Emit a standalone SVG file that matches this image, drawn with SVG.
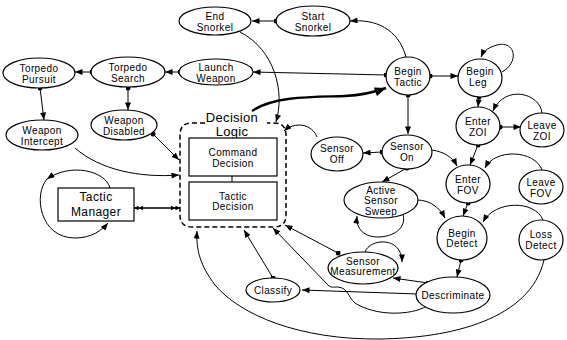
<svg xmlns="http://www.w3.org/2000/svg" width="567" height="340" viewBox="0 0 567 340">
<style>
.n ellipse, .n rect{fill:#fff;stroke:#000;stroke-width:1.2}
text{font-family:"Liberation Sans",Arial,sans-serif;font-size:10px;letter-spacing:0.4px;text-anchor:middle;fill:#000}
.e path{fill:none;stroke:#000;stroke-width:1}
.a{marker-end:url(#ah)}
.d{marker-start:url(#dot)}
</style>
<defs>
<marker id="ah" viewBox="0 0 10 8" refX="10" refY="4" markerWidth="8" markerHeight="6" orient="auto" markerUnits="userSpaceOnUse"><path d="M0,0 L10,4 L0,8 z" fill="#000"/></marker>
<marker id="ahb" viewBox="0 0 10 8" refX="10" refY="4" markerWidth="12" markerHeight="9" orient="auto" markerUnits="userSpaceOnUse"><path d="M0,0 L10,4 L0,8 z" fill="#000"/></marker>
<marker id="dot" viewBox="0 0 6 6" refX="3" refY="3" markerWidth="5" markerHeight="5" markerUnits="userSpaceOnUse"><circle cx="3" cy="3" r="3" fill="#000"/></marker>
<marker id="dbl" viewBox="0 0 12 8" refX="12" refY="4" markerWidth="10" markerHeight="6" orient="auto-start-reverse" markerUnits="userSpaceOnUse"><path d="M0,1 L6,4 L0,7 z M6,1 L12,4 L6,7 z" fill="#000"/></marker>
</defs>

<g id="connectors" class="e">
<path class="a d" d="M276,21 L252,21"/>
<path class="a" d="M406,57 C398,28 375,19 350,21"/>
<path class="a" d="M240,32 C275,50 285,92 276,122"/>
<path class="a d" d="M386,75 L253,72"/>
<path class="a d" d="M180,72 L165,72"/>
<path class="a d" d="M92,72 L75,72"/>
<path class="a d" d="M128,88 L128,110"/>
<path class="a d" d="M40,88 L44,120"/>
<path class="a d" d="M153,134 L179,160"/>
<path class="a" d="M75,148 C100,170 140,178 179,175"/>
<path d="M252,111 C275,95 320,97 345,96 C365,95 375,92 386,88" style="stroke-width:2.4;marker-end:url(#ahb)"/>
<path class="a d" d="M430,76 L458,76"/>
<path class="a d" d="M408,95 L408,134"/>
<path class="a d" d="M479,97 L478,107"/>
<path class="a d" d="M500,127 L521,127"/>
<path class="a" d="M542,113 C540,93 505,84 493,111"/>
<path class="a d" d="M478,145 L470,165"/>
<path class="a d" d="M382,152 L363,153"/>
<path class="a" d="M317,137 C312,124 295,121 284,131"/>
<path class="a" d="M432,150 C445,152 453,158 457,166"/>
<path class="a d" d="M407,168 L382,182"/>
<path class="a" d="M417,200 C430,200 440,208 445,218"/>
<path class="a d" d="M468,203 L463,216"/>
<path class="a d" d="M461,260 L457,277"/>
<path class="a" d="M544,260 C530,320 450,338 380,339 C300,340 240,315 215,285 C200,265 196,250 197,231"/>
<path class="a d" d="M428,283 L393,278"/>
<path class="a d" d="M418,294 L302,290"/>
<path class="a" d="M427,306 C410,316 375,316 355,303 C348,297 348,288 338,287 C333,287 331,288 328,285 L273,228"/>
<path class="a d" d="M338,253 L285,225"/>
<path class="a d" d="M273,278 L244,230"/>
<path class="a" d="M502,72 C520,62 515,40 497,45 C490,47 484,50 481,57"/>
<path class="a" d="M403,214 C408,232 385,240 370,236 C360,233 356,225 357,216"/>
<path class="a" d="M365,252 C370,238 402,236 402,262"/>
<path class="a" d="M542,170 C535,150 495,148 485,168"/>
<path class="a" d="M543,220 C535,200 495,200 483,222"/>
<path class="a" d="M110,188 C105,170 70,163 47,179"/>
<path class="a" d="M47,179 C33,195 40,238 75,238 C92,238 102,230 108,223"/>
<path d="M134,208 L180,208" style="stroke-width:1.5;marker-start:url(#dbl);marker-end:url(#dbl)"/>
<path d="M232,176 L232,182"/>
</g>

<g id="decision-logic" class="n">
<path d="M205,123 L192,123 Q180,123 180,135 L180,215 Q180,227 192,227 L274,227 Q286,227 286,215 L286,135 Q286,123 274,123 L267,123" fill="none" stroke="#000" stroke-width="1.5" stroke-dasharray="5,3"/>
<text x="232" y="121.5" style="font-size:13px;letter-spacing:0.3px">Decision</text>
<text x="232" y="135.5" style="font-size:13px;letter-spacing:0.3px">Logic</text>
</g>
<g id="command-decision" class="n"><rect x="189" y="138" width="88" height="38"/><text x="233" y="155.5">Command</text><text x="233" y="166.5">Decision</text></g>
<g id="tactic-decision" class="n"><rect x="189" y="182" width="88" height="38"/><text x="233" y="199.5">Tactic</text><text x="233" y="210">Decision</text></g>
<g id="tactic-manager" class="n"><rect x="58" y="188" width="76" height="33"/><text x="96" y="201" style="font-size:12px;letter-spacing:0.4px">Tactic</text><text x="96" y="216" style="font-size:12px;letter-spacing:0.4px">Manager</text></g>

<g id="end-snorkel" class="n"><ellipse cx="215" cy="21" rx="36" ry="14"/><text x="215" y="19.5">End</text><text x="215" y="30.5">Snorkel</text></g>
<g id="start-snorkel" class="n"><ellipse cx="313" cy="21" rx="37" ry="15"/><text x="313" y="19.5">Start</text><text x="313" y="30.5">Snorkel</text></g>
<g id="launch-weapon" class="n"><ellipse cx="216" cy="72" rx="37" ry="13"/><text x="216" y="70.5">Launch</text><text x="216" y="81.5">Weapon</text></g>
<g id="torpedo-search" class="n"><ellipse cx="128" cy="72" rx="37" ry="15"/><text x="128" y="70.5">Torpedo</text><text x="128" y="81.5">Search</text></g>
<g id="torpedo-pursuit" class="n"><ellipse cx="39" cy="73" rx="36" ry="15"/><text x="39" y="71.5">Torpedo</text><text x="39" y="82.5">Pursuit</text></g>
<g id="weapon-disabled" class="n"><ellipse cx="124" cy="125" rx="33" ry="15"/><text x="124" y="123.5">Weapon</text><text x="124" y="134.5">Disabled</text></g>
<g id="weapon-intercept" class="n"><ellipse cx="42" cy="135" rx="36" ry="15"/><text x="42" y="133.5">Weapon</text><text x="42" y="144.5">Intercept</text></g>
<g id="begin-tactic" class="n"><ellipse cx="408" cy="76" rx="22" ry="19"/><text x="408" y="74.5">Begin</text><text x="408" y="85.5">Tactic</text></g>
<g id="begin-leg" class="n"><ellipse cx="480" cy="78" rx="22" ry="19"/><text x="480" y="75">Begin</text><text x="478" y="86">Leg</text></g>
<g id="enter-zoi" class="n"><ellipse cx="478" cy="126" rx="22" ry="19"/><text x="478" y="124.5">Enter</text><text x="478" y="135.5">ZOI</text></g>
<g id="leave-zoi" class="n"><ellipse cx="542" cy="130" rx="22" ry="17"/><text x="542" y="128.5">Leave</text><text x="542" y="139.5">ZOI</text></g>
<g id="sensor-on" class="n"><ellipse cx="407" cy="152" rx="25" ry="17"/><text x="407" y="150">Sensor</text><text x="407" y="161">On</text></g>
<g id="sensor-off" class="n"><ellipse cx="337" cy="154" rx="26" ry="17"/><text x="337" y="152">Sensor</text><text x="337" y="163">Off</text></g>
<g id="active-sensor-sweep" class="n"><ellipse cx="381" cy="200" rx="37" ry="18"/><text x="381" y="193.5">Active</text><text x="381" y="203.5">Sensor</text><text x="381" y="214.5">Sweep</text></g>
<g id="enter-fov" class="n"><ellipse cx="468" cy="184" rx="22" ry="19"/><text x="468" y="182.5">Enter</text><text x="468" y="193.5">FOV</text></g>
<g id="leave-fov" class="n"><ellipse cx="541" cy="187" rx="22" ry="17"/><text x="541" y="185.5">Leave</text><text x="541" y="196.5">FOV</text></g>
<g id="begin-detect" class="n"><ellipse cx="462" cy="238" rx="25" ry="22"/><text x="462" y="236.5">Begin</text><text x="462" y="247">Detect</text></g>
<g id="loss-detect" class="n"><ellipse cx="541" cy="240" rx="22" ry="20"/><text x="541" y="237.5">Loss</text><text x="541" y="248.5">Detect</text></g>
<g id="descriminate" class="n"><ellipse cx="453" cy="295" rx="37" ry="18"/><text x="453" y="298.5">Descriminate</text></g>
<g id="sensor-measurement" class="n"><ellipse cx="363" cy="268" rx="35" ry="16"/><text x="363" y="264.5">Sensor</text><text x="363" y="275">Measurement</text></g>
<g id="classify" class="n"><ellipse cx="273" cy="290" rx="27" ry="12"/><text x="273" y="293.5">Classify</text></g>
</svg>
